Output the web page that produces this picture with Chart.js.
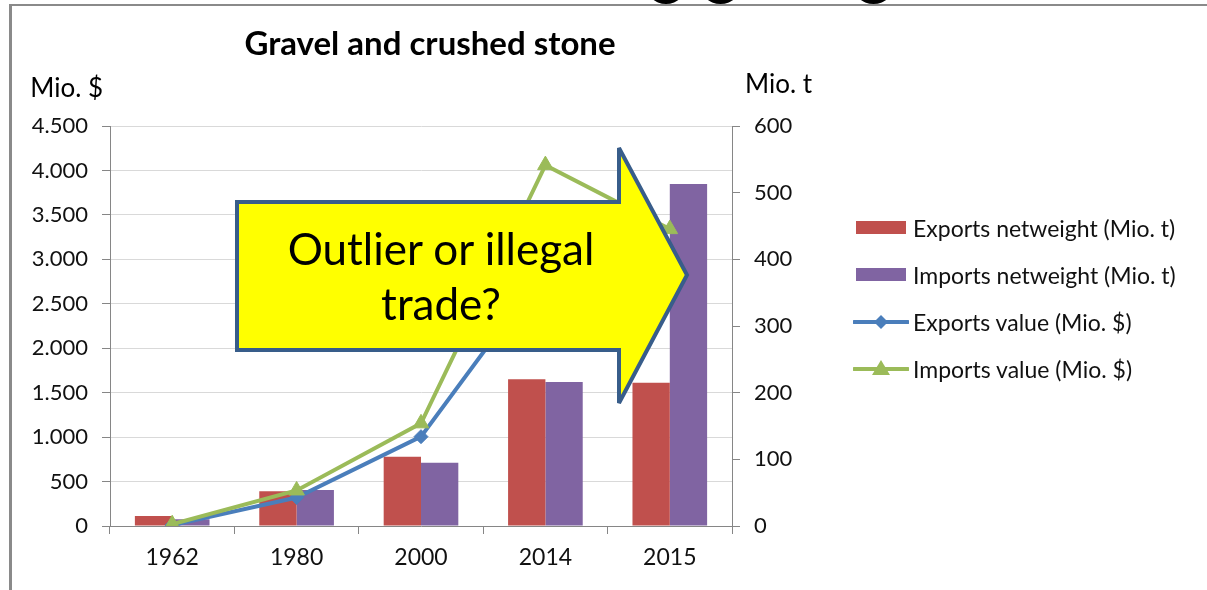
<!DOCTYPE html>
<html>
<head>
<meta charset="utf-8">
<script src="https://cdn.jsdelivr.net/npm/chart.js@4/dist/chart.umd.min.js"></script>
<style>
  html, body { margin: 0; padding: 0; background: #fff; }
  #wrap { position: relative; width: 1207px; height: 590px; overflow: hidden; font-family: Lato, "Open Sans", sans-serif; }
  #frameTop { position: absolute; left: 9px; top: 4px; width: 1198px; height: 2px; background: #8a8a8a; }
  #frameLeft { position: absolute; left: 9px; top: 4px; width: 3px; height: 586px; background: #8a8a8a; }
  .blob { position: absolute; top: -38px; height: 42px; background: #000; border-radius: 50%; }
  #chartBox { position: absolute; left: 0; top: 0; width: 1207px; height: 590px; }
  #arrow { position: absolute; left: 0; top: 0; }
  #arrowText { position: absolute; left: 241px; width: 400px; top: 221px; text-align: center; font-size: 44px; line-height: 55px; color: #000; }
  #legend { position: absolute; left: 853px; top: 204px; }
  .item { display: flex; align-items: center; height: 47px; font-size: 23px; color: #111; white-space: nowrap; }
  .item svg { margin-right: 4px; }
</style>
</head>
<body>
<div id="wrap">
  <div id="chartBox"><canvas id="chart"></canvas></div>
  <div id="frameTop"></div>
  <div id="frameLeft"></div>
  <div class="blob" style="left:645px;width:42px"></div>
  <div class="blob" style="left:699px;width:43px"></div>
  <div class="blob" style="left:852px;width:43px"></div>
  <svg id="arrow" width="1207" height="590">
    <polygon points="237,202 619,202 619,148 687,275 619,403 619,350 237,350"
      fill="#ffff00" stroke="#385d8a" stroke-width="4" stroke-linejoin="miter"/>
  </svg>
  <div id="arrowText">Outlier or illegal<br>trade?</div>
  <div id="legend"></div>
</div>
<script>
'use strict';

const years = ['1962', '1980', '2000', '2014', '2015'];
const exportsWeight = [15, 52, 104, 220, 215];     // Mio. t
const importsWeight = [10, 54, 95, 216, 513];      // Mio. t
const exportsValue = [10, 320, 1005, 2900, 2980];  // Mio. $
const importsValue = [20, 400, 1155, 4060, 3340];  // Mio. $
const leftTicks = { min: 0, max: 4500, step: 500 };
const rightTicks = { min: 0, max: 600, step: 100 };

const FONT = 'Lato, "Open Sans", sans-serif';
const axisClr = '#868686';
const gridClr = '#d9d9d9';

const fmt = v => String(v).replace(/\B(?=(\d{3})+(?!\d))/g, '.');

// title and unit labels above the axes
const labelsPlugin = {
    id: 'labels',
    afterDraw(chart) {
        const { ctx, chartArea: a } = chart;
        ctx.save();
        ctx.fillStyle = '#000';
        ctx.textBaseline = 'middle';
        ctx.font = 'bold 33px ' + FONT;
        ctx.textAlign = 'center';
        ctx.fillText('Gravel and crushed stone', (a.left + a.right) / 2 + 9, 44);
        ctx.font = '26px ' + FONT;
        ctx.textAlign = 'right';
        ctx.fillText('Mio. $', a.left - 7, a.top - 37);
        ctx.textAlign = 'left';
        ctx.fillText('Mio. t', a.right + 13, a.top - 41);
        ctx.restore();
    }
};

const datasets = [
    { type: 'bar', label: 'Exports netweight (Mio. t)', data: exportsWeight, yAxisID: 'y1', backgroundColor: '#c0504d', order: 2, categoryPercentage: 0.6, barPercentage: 1 },
    { type: 'bar', label: 'Imports netweight (Mio. t)', data: importsWeight, yAxisID: 'y1', backgroundColor: '#8064a2', order: 2, categoryPercentage: 0.6, barPercentage: 1 },
    { type: 'line', label: 'Exports value (Mio. $)', data: exportsValue, yAxisID: 'y', borderColor: '#4a7ebb', backgroundColor: '#4a7ebb', borderWidth: 4, pointStyle: 'rectRot', pointRadius: 7, pointBorderWidth: 1, tension: 0, order: 1 },
    { type: 'line', label: 'Imports value (Mio. $)', data: importsValue, yAxisID: 'y', borderColor: '#9bbb59', backgroundColor: '#9bbb59', borderWidth: 4, pointStyle: 'triangle', pointRadius: 9, pointBorderWidth: 1, tension: 0, order: 0 },
];

const chart = new Chart(document.getElementById('chart'), {
    data: { labels: years, datasets },
    options: {
        responsive: true, maintainAspectRatio: false, animation: false,
        layout: { padding: { left: 0, top: 126, right: 395, bottom: 0 } },
        plugins: { legend: { display: false }, title: { display: false }, tooltip: { enabled: false } },
        scales: {
            x: {
                offset: true,
                grid: { offset: true, drawOnChartArea: false, drawTicks: true, tickLength: 8, tickColor: axisClr },
                border: { color: axisClr, width: 1 },
                ticks: { color: '#111', font: { family: FONT, size: 23 }, padding: 10 },
                afterFit: s => { s.height = 64; },
            },
            y: {
                position: 'left', min: leftTicks.min, max: leftTicks.max,
                grid: { color: gridClr, tickColor: axisClr, tickLength: 8 },
                border: { color: axisClr, width: 1 },
                ticks: { stepSize: leftTicks.step, color: '#111', font: { family: FONT, size: 22 }, padding: 14, callback: fmt },
                afterFit: s => { s.width = 110; },
            },
            y1: {
                position: 'right', min: rightTicks.min, max: rightTicks.max,
                grid: { drawOnChartArea: false, tickColor: axisClr, tickLength: 8 },
                border: { color: axisClr, width: 1 },
                ticks: { stepSize: rightTicks.step, color: '#111', font: { family: FONT, size: 22 }, padding: 14 },
                afterFit: s => { s.width = 80; },
            },
        },
    },
    plugins: [labelsPlugin],
});

// legend built from the datasets
const legend = document.getElementById('legend');
chart.data.datasets.forEach(ds => {
    let sw;
    if (ds.type === 'bar') {
        sw = `<rect x="3" y="3" width="50" height="13" fill="${ds.backgroundColor}"/>`;
    } else {
        const c = ds.borderColor;
        const mark = ds.pointStyle === 'triangle'
            ? `<polygon points="28,1 37,16 19,16" fill="${c}"/>`
            : `<polygon points="28,3 35,10 28,17 21,10" fill="${c}"/>`;
        sw = `<line x1="1" y1="10" x2="55" y2="10" stroke="${c}" stroke-width="4" stroke-linecap="round"/>` + mark;
    }
    const row = document.createElement('div');
    row.className = 'item';
    row.innerHTML = `<svg width="56" height="20">${sw}</svg><span>${ds.label}</span>`;
    legend.appendChild(row);
});
</script>
</body>
</html>
